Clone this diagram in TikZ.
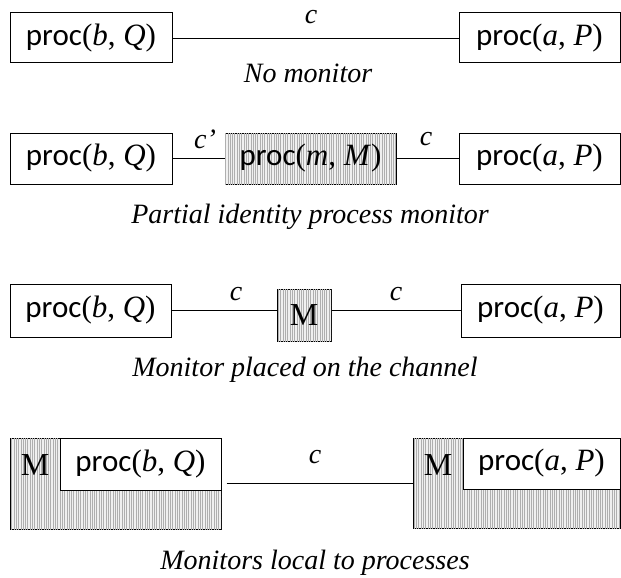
\documentclass[tikz,border=0pt]{standalone}
\usepackage{fontspec}
\setmainfont{Liberation Serif}
\setsansfont{Carlito}
\usepackage{tikz}
\definecolor{mongray}{RGB}{175,175,175}
\definecolor{monfill}{RGB}{240,240,240}
\usetikzlibrary{positioning,patterns.meta}
\tikzset{
  procbox/.style={draw,line width=1pt,fill=white,inner sep=0pt,font=\fontsize{31}{35}\selectfont},
  monfill/.style={fill=monfill,postaction={pattern={Lines[angle=90,distance=2.3pt,line width=0.4pt]},pattern color=mongray}},
  monbox/.style={procbox,monfill},
  chan/.style={line width=0.9pt},
  chanlabel/.style={font=\fontsize{28}{32}\selectfont\itshape,inner sep=0pt},
  caption/.style={font=\fontsize{28}{32}\selectfont\itshape,inner sep=0pt}
}
\newcommand{\procbQ}{{\sffamily proc}(\textit{b}, \textit{Q})}
\newcommand{\procaP}{{\sffamily proc}(\textit{a}, \textit{P})}
\begin{document}
\begin{tikzpicture}[x=1pt,y=-1pt]
  \useasboundingbox (0,0) rectangle (621,578);
  % No monitor
  \node[procbox,minimum width=162pt,minimum height=50pt] (b1) at (91,38) {\procbQ};
  \node[procbox,minimum width=161pt,minimum height=50pt] (a1) at (539.5,38) {\procaP};
  \draw[chan] (b1) -- (a1);
  \node[chanlabel] (c1) at (311,17) {c};
  \node[caption] (cap1) at (308,73) {No monitor};
  % Partial identity process monitor
  \node[procbox,minimum width=162pt,minimum height=51pt] (b2) at (91,158.5) {\procbQ};
  \node[monbox,minimum width=171pt,minimum height=51pt] (m2) at (310.5,158.5) {{\sffamily proc}(\textit{m}, \textit{M})};
  \node[procbox,minimum width=161pt,minimum height=51pt] (a2) at (539.5,158.5) {\procaP};
  \draw[chan] (b2) -- (m2);
  \draw[chan] (m2) -- (a2);
  \node[chanlabel] (c2a) at (205,139) {c'};
  \node[chanlabel] (c2b) at (426,139) {c};
  \node[caption] (cap2) at (310,217) {Partial identity process monitor};
  % Monitor placed on the channel
  \node[procbox,minimum width=161pt,minimum height=53pt] (b3) at (90.5,310.5) {\procbQ};
  \node[monbox,minimum width=54pt,minimum height=52pt,font=\fontsize{32}{36}\selectfont] (m3) at (304,315) {M};
  \node[procbox,minimum width=159pt,minimum height=53pt] (a3) at (540.5,310.5) {\procaP};
  \draw[chan] (b3.east) -- (b3.east -| m3.west);
  \draw[chan] (b3.east -| m3.east) -- (a3.west);
  \node[chanlabel] (c3a) at (236,294) {c};
  \node[chanlabel] (c3b) at (396,294) {c};
  \node[caption] (cap3) at (305,370) {Monitor placed on the channel};
  % Monitors local to processes
  \node[draw,line width=1pt,monfill,minimum width=211pt,minimum height=91pt] (mb4) at (115.5,483.5) {};
  \node[procbox,minimum width=161pt,minimum height=52pt,anchor=north east] (b4) at (mb4.north east) {\procbQ};
  \node[font=\fontsize{32}{36}\selectfont,inner sep=0pt] (mlb4) at (35,465) {M};
  \node[draw,line width=1pt,monfill,minimum width=207pt,minimum height=90pt] (ma4) at (516.5,483) {};
  \node[procbox,minimum width=157pt,minimum height=51pt,anchor=north east] (a4) at (ma4.north east) {\procaP};
  \node[font=\fontsize{32}{36}\selectfont,inner sep=0pt] (mla4) at (438,465) {M};
  \draw[chan] ([xshift=5pt]mb4.east |- ma4.west) -- (ma4.west);
  \node[chanlabel] (c4) at (315,457) {c};
  \node[caption] (cap4) at (315,563) {Monitors local to processes};
\end{tikzpicture}
\end{document}
